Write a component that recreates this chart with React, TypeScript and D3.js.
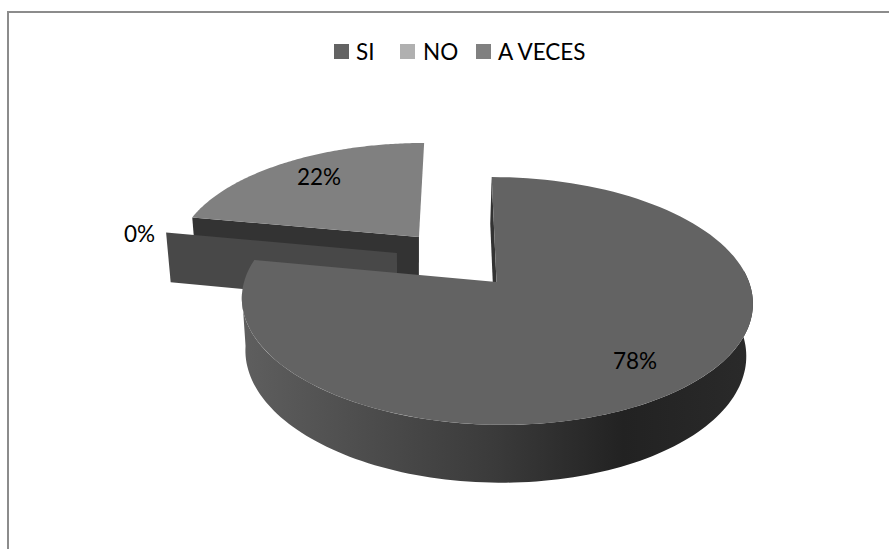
import React from "react";
import * as d3 from "d3";

const categories = ["SI", "NO", "A VECES"];
const values = [78, 0, 22];
const labels = ["78%", "0%", "22%"];
const topColors = ["#636363", "#b0b0b0", "#808080"];

// layout constants of the tilted disc
const W = 889, H = 549;
const APEX = { x: 496.5, y: 282 };
const RX = 252.5, RY = 121, PERSP = 0.153, SKEW = 0.046;
const DEPTH_Y = 53, DEPTH_SCALE = 0.02, DEPTH_X = -1.5;
const EXPLODE: [number, number][] = [[0, 0], [-0.404, -0.249], [-0.317, -0.394]];

const project = (u: number, v: number, z: number): [number, number] => {
  const d = 1 - PERSP * v + DEPTH_SCALE * z;
  const y = APEX.y + (RY * v + DEPTH_Y * z) / d;
  const x = APEX.x + (RX * u) / d + SKEW * (y - APEX.y - DEPTH_Y * z / d) + DEPTH_X * z;
  return [x, y];
};
const rim = (a: number, i: number, z: number): [number, number] => {
  const [ex, ey] = EXPLODE[i];
  return project(ex + Math.sin(a), ey - Math.cos(a), z);
};
const hub = (i: number, z: number): [number, number] => project(EXPLODE[i][0], EXPLODE[i][1], z);

const line = d3.line<[number, number]>().x((d) => d[0]).y((d) => d[1]);
const sweep = (a0: number, a1: number, i: number, z: number): [number, number][] =>
  d3.range(0, 121).map((k) => rim(d3.interpolateNumber(a0, a1)(k / 120), i, z));

const arcs = d3.pie<number>().sort(null).value((d) => d)(values);

const facePath = (i: number) =>
  line([hub(i, 0), ...sweep(arcs[i].startAngle, arcs[i].endAngle, i, 0)])! + "Z";
const radialWall = (i: number, a: number) =>
  line([hub(i, 0), rim(a, i, 0), rim(a, i, 1), hub(i, 1)])! + "Z";

const wallStart = Math.PI * 0.47, wallEnd = Math.PI * 1.47;
const outerWall =
  line([...sweep(wallStart, wallEnd, 0, 0), ...sweep(wallStart, wallEnd, 0, 1).reverse()])! + "Z";

const font = "Lato, 'Open Sans', sans-serif";
const labelPos: [number, number][] = [[635, 369], [139.5, 242], [319, 185]];
const legendX = [334, 400, 476];
const legendTextX = [356, 423, 498];

export default function App() {
  return (
    <svg
      width={W}
      height={H}
      viewBox={`0 0 ${W} ${H}`}
      style={{ position: "absolute", left: 0, top: 0, background: "#fff" }}
    >
      <defs>
        <linearGradient id="wallGrad" gradientUnits="userSpaceOnUse" x1={245} x2={750} y1={0} y2={0}>
          <stop offset="0" stopColor="#5e5e5e" />
          <stop offset="0.5" stopColor="#3a3a3a" />
          <stop offset="0.75" stopColor="#222222" />
          <stop offset="1" stopColor="#2a2a2a" />
        </linearGradient>
      </defs>
      <path d={`M8 549V12H889`} fill="none" stroke="#8c8c8c" strokeWidth={2} />

      <path d={radialWall(2, arcs[2].startAngle)} fill="#333333" />
      <path d={facePath(2)} fill={topColors[2]} />
      <path d={radialWall(1, arcs[1].startAngle)} fill="#484848" />
      <path d={radialWall(0, arcs[0].startAngle)} fill="#333333" />
      <path d={outerWall} fill="url(#wallGrad)" />
      <path d={facePath(0)} fill={topColors[0]} />

      {labels.map((t, i) => (
        <text key={t} x={labelPos[i][0]} y={labelPos[i][1]} textAnchor="middle" fontFamily={font} fontSize={22.5} fill="#000">
          {t}
        </text>
      ))}
      {categories.map((c, i) => (
        <g key={c}>
          <rect x={legendX[i]} y={44} width={15} height={15} fill={topColors[i]} />
          <text x={legendTextX[i]} y={60} fontFamily={font} fontSize={22.5} fill="#000">
            {c}
          </text>
        </g>
      ))}
    </svg>
  );
}
